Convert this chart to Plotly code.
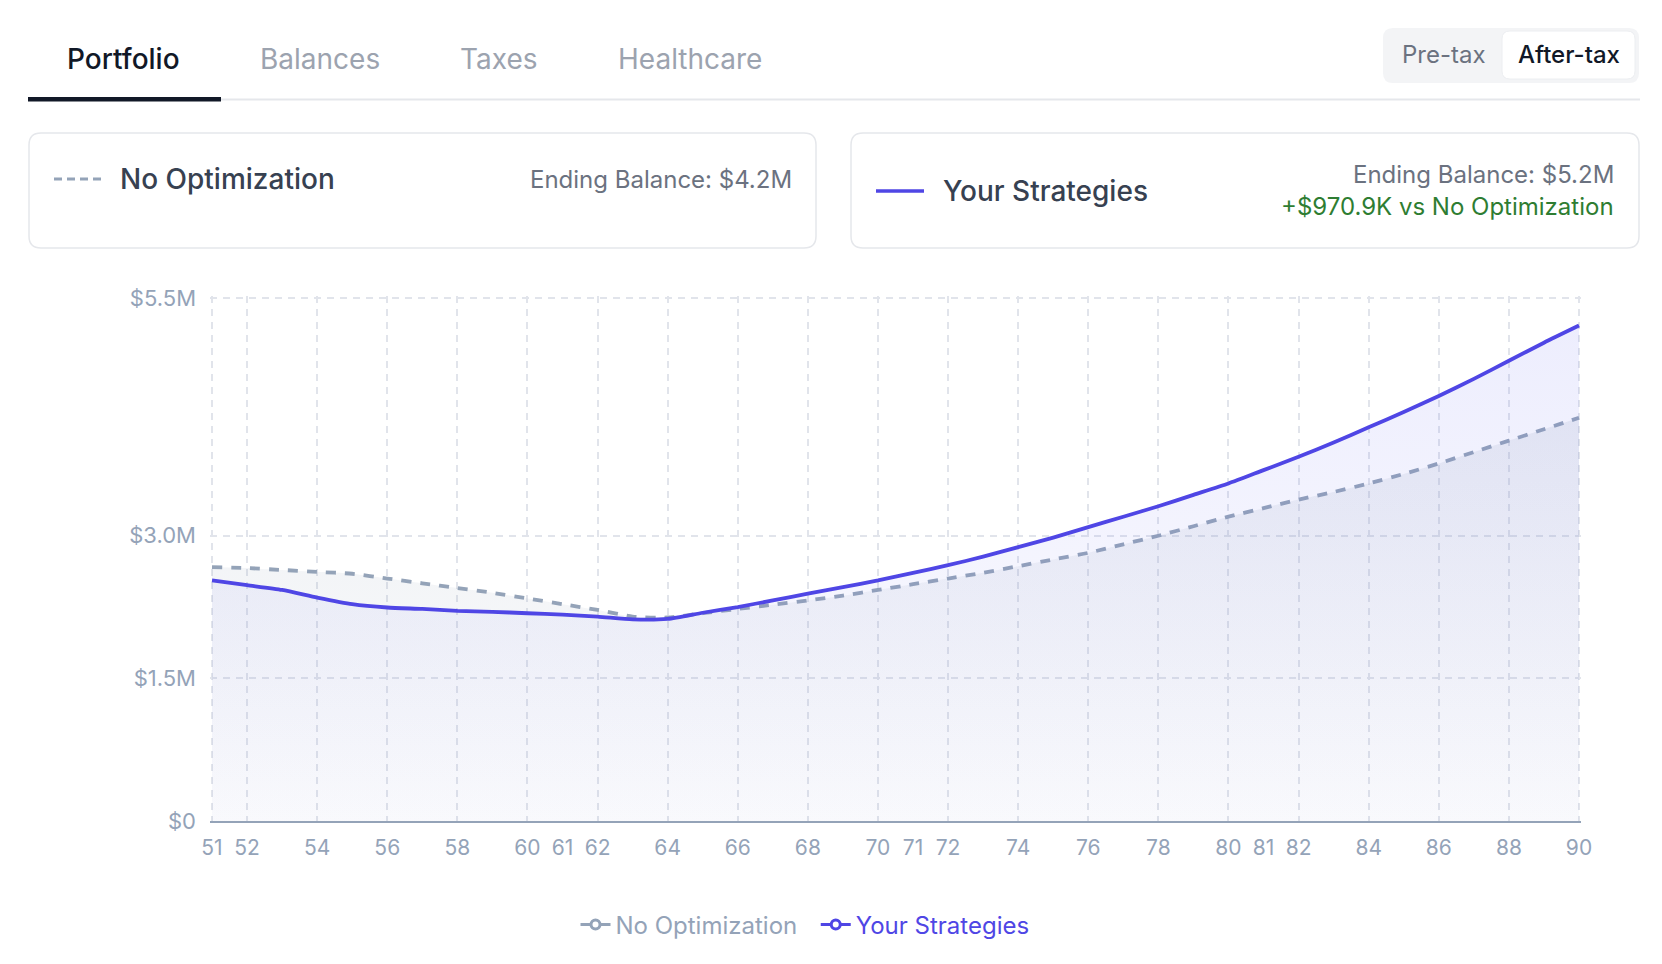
import plotly.graph_objects as go

# ---------------- data ----------------
ages = list(range(51, 91))
no_opt = [2.67, 2.66, 2.64, 2.62, 2.60, 2.55, 2.50, 2.45, 2.40, 2.34,
          2.28, 2.22, 2.15, 2.14, 2.185, 2.23, 2.275, 2.32, 2.37, 2.43,
          2.49, 2.55, 2.61, 2.68, 2.75, 2.82, 2.91, 3.00, 3.10, 3.20,
          3.29, 3.38, 3.46, 3.55, 3.65, 3.76, 3.88, 4.00, 4.12, 4.24]
yours = [2.53, 2.48, 2.43, 2.35, 2.28, 2.245, 2.23, 2.21, 2.20, 2.185,
         2.17, 2.15, 2.12, 2.125, 2.19, 2.25, 2.32, 2.39, 2.46, 2.53,
         2.61, 2.69, 2.78, 2.88, 2.98, 3.09, 3.20, 3.31, 3.43, 3.55,
         3.69, 3.83, 3.98, 4.14, 4.30, 4.47, 4.65, 4.84, 5.03, 5.21]
no_opt_vals = [v * 1e6 for v in no_opt]
yours_vals = [v * 1e6 for v in yours]

grid_ages = [51] + list(range(52, 91, 2))
extra_label_ages = [61, 71, 81]
y_ticks = [0, 1.5e6, 3.0e6, 5.5e6]
y_tick_text = ["$0", "$1.5M", "$3.0M", "$5.5M"]

tabs = ["Portfolio", "Balances", "Taxes", "Healthcare"]
toggle = ["Pre-tax", "After-tax"]
series_names = ["No Optimization", "Your Strategies"]
ending_text = ["Ending Balance: $4.2M", "Ending Balance: $5.2M"]
diff_text = "+$970.9K vs No Optimization"

# ---------------- geometry helpers ----------------
W, H = 1662, 964
# data-range pixel positions (age 51 .. 90, $0 .. $5.5M)
L, R, T, B = 212, 1579, 298, 821
PAD = 2  # extend plot area slightly so edge gridlines are drawn
PL, PR, PT, PB = L - PAD, R + PAD, T - PAD, B
x_per_px = (90 - 51) / (R - L)
y_per_px = 5.5e6 / (B - T)
x_range = [51 - PAD * x_per_px, 90 + PAD * x_per_px]
y_range = [0, 5.5e6 + PAD * y_per_px]

def px(x):
    return (x - PL) / (PR - PL)

def py(y):
    return (PB - y) / (PB - PT)

def rrect(x0, y0, x1, y1, r):
    X0, X1 = px(x0), px(x1)
    Y0, Y1 = py(y0), py(y1)
    rx = r / (PR - PL)
    ry = r / (PB - PT)
    return (f"M{X0+rx},{Y0} L{X1-rx},{Y0} Q{X1},{Y0} {X1},{Y0-ry} "
            f"L{X1},{Y1+ry} Q{X1},{Y1} {X1-rx},{Y1} L{X0+rx},{Y1} "
            f"Q{X0},{Y1} {X0},{Y1+ry} L{X0},{Y0-ry} Q{X0},{Y0} {X0+rx},{Y0} Z")

FONT = "Inter, 'Noto Sans', sans-serif"
INDIGO = "#4f46e5"
SLATE = "#94a3b8"

fig = go.Figure()

fig.add_trace(go.Scatter(
    x=ages, y=no_opt_vals, mode="lines", name=series_names[0], showlegend=False,
    line=dict(color=SLATE, width=3.8, dash="10px,9px", shape="spline", smoothing=0.6),
    fill="tozeroy",
    fillgradient=dict(type="vertical", start=0, stop=5.5e6,
                      colorscale=[[0, "rgba(148,163,184,0.03)"], [1, "rgba(148,163,184,0.20)"]]),
    hoverinfo="skip",
))
fig.add_trace(go.Scatter(
    x=ages, y=yours_vals, mode="lines", name=series_names[1], showlegend=False,
    line=dict(color=INDIGO, width=3.8, shape="spline", smoothing=0.6),
    fill="tozeroy",
    fillgradient=dict(type="vertical", start=0, stop=5.5e6,
                      colorscale=[[0, "rgba(99,102,241,0.02)"], [1, "rgba(99,102,241,0.12)"]]),
    hoverinfo="skip",
))

# legend-only entries
fig.add_trace(go.Scatter(
    x=[None], y=[None], mode="lines+markers", xaxis="x2",
    name=f"<span style='color:{SLATE}'>{series_names[0]}</span>&nbsp;&nbsp;",
    line=dict(color=SLATE, width=3),
    marker=dict(symbol="circle", size=9, color="white", line=dict(color=SLATE, width=3)),
))
fig.add_trace(go.Scatter(
    x=[None], y=[None], mode="lines+markers", xaxis="x2",
    name=f"<span style='color:{INDIGO}'>{series_names[1]}</span>",
    line=dict(color=INDIGO, width=3),
    marker=dict(symbol="circle", size=9, color="white", line=dict(color=INDIGO, width=3)),
))

shapes = []
annotations = []

# tabs
tab_x = [124, 320, 499, 690]
for i, (t, xc) in enumerate(zip(tabs, tab_x)):
    annotations.append(dict(
        x=px(xc), y=py(59), xref="paper", yref="paper", text=t, showarrow=False,
        xanchor="center", yanchor="middle",
        font=dict(family=FONT, size=28, color="#111827" if i == 0 else "#9ca3af",
                  weight=500 if i == 0 else 400)))
shapes.append(dict(type="line", xref="paper", yref="paper",
                   x0=px(28), x1=px(1640), y0=py(99.5), y1=py(99.5),
                   line=dict(color="#e5e7eb", width=2)))
shapes.append(dict(type="rect", xref="paper", yref="paper",
                   x0=px(28), x1=px(221), y0=py(97), y1=py(101.5),
                   line=dict(width=0), fillcolor="#111827"))

# toggle
shapes.append(dict(type="path", xref="paper", yref="paper", path=rrect(1383, 28, 1639, 83, 10),
                   fillcolor="#f3f4f6", line=dict(width=0)))
shapes.append(dict(type="path", xref="paper", yref="paper", path=rrect(1502, 31, 1635, 79, 8),
                   fillcolor="white", line=dict(color="#eceef1", width=1)))
annotations.append(dict(x=px(1444), y=py(55), xref="paper", yref="paper", text=toggle[0],
                        showarrow=False, xanchor="center", yanchor="middle",
                        font=dict(family=FONT, size=24, color="#6b7280")))
annotations.append(dict(x=px(1569), y=py(55), xref="paper", yref="paper", text=toggle[1],
                        showarrow=False, xanchor="center", yanchor="middle",
                        font=dict(family=FONT, size=24, color="#111827", weight=500)))

# cards
for (x0, x1) in [(29, 816), (851, 1639)]:
    shapes.append(dict(type="path", xref="paper", yref="paper", path=rrect(x0, 133, x1, 248, 12),
                       fillcolor="white", line=dict(color="#e5e7eb", width=1.5)))

shapes.append(dict(type="line", xref="paper", yref="paper",
                   x0=px(54), x1=px(103), y0=py(179), y1=py(179),
                   line=dict(color=SLATE, width=3, dash="8px,5px")))
annotations.append(dict(x=px(118), y=py(179), xref="paper", yref="paper", text=series_names[0],
                        showarrow=False, xanchor="left", yanchor="middle",
                        font=dict(family=FONT, size=28, color="#374151", weight=500)))
annotations.append(dict(x=px(794), y=py(179), xref="paper", yref="paper", text=ending_text[0],
                        showarrow=False, xanchor="right", yanchor="middle",
                        font=dict(family=FONT, size=24, color="#6b7280")))

shapes.append(dict(type="line", xref="paper", yref="paper",
                   x0=px(876), x1=px(924), y0=py(191), y1=py(191),
                   line=dict(color=INDIGO, width=3.5)))
annotations.append(dict(x=px(941), y=py(191), xref="paper", yref="paper", text=series_names[1],
                        showarrow=False, xanchor="left", yanchor="middle",
                        font=dict(family=FONT, size=28, color="#374151", weight=500)))
annotations.append(dict(x=px(1616), y=py(174), xref="paper", yref="paper", text=ending_text[1],
                        showarrow=False, xanchor="right", yanchor="middle",
                        font=dict(family=FONT, size=24, color="#6b7280")))
annotations.append(dict(x=px(1616), y=py(207), xref="paper", yref="paper", text=diff_text,
                        showarrow=False, xanchor="right", yanchor="middle",
                        font=dict(family=FONT, size=24, color="#2e7d32")))

xtickfont = dict(family=FONT, size=21, color=SLATE)
ytickfont = dict(family=FONT, size=22, color=SLATE)

fig.update_layout(
    width=W, height=H, autosize=False,
    margin=dict(l=PL, r=W - PR, t=PT, b=H - PB, pad=0),
    paper_bgcolor="white", plot_bgcolor="white",
    font=dict(family=FONT, color=SLATE),
    shapes=shapes, annotations=annotations,
    hovermode=False,
    xaxis=dict(range=x_range, tickmode="array", tickvals=grid_ages,
               ticktext=[str(a) for a in grid_ages], showgrid=True,
               gridcolor="#e1e4eb", gridwidth=1.5, griddash="7px,6px",
               showline=True, linecolor=SLATE, linewidth=2, zeroline=False,
               ticks="", ticklabelstandoff=7, tickfont=xtickfont, fixedrange=True),
    xaxis2=dict(range=x_range, overlaying="x", anchor="y", side="bottom",
                tickmode="array", tickvals=extra_label_ages,
                ticktext=[str(a) for a in extra_label_ages], showgrid=False,
                showline=True, linecolor=SLATE, linewidth=2, zeroline=False,
                ticks="", ticklabelstandoff=7, tickfont=xtickfont, fixedrange=True),
    yaxis=dict(range=y_range, tickmode="array", tickvals=y_ticks, ticktext=y_tick_text,
               showgrid=True, gridcolor="#e1e4eb", gridwidth=1.5, griddash="7px,6px",
               zeroline=False, showline=False, ticks="", ticklabelstandoff=13,
               tickfont=ytickfont, fixedrange=True),
    showlegend=True,
    legend=dict(orientation="h", x=px(805), y=py(925), xanchor="center", yanchor="middle",
                font=dict(family=FONT, size=24, color=SLATE), itemwidth=30,
                bgcolor="rgba(0,0,0,0)"),
)

fig.write_html("out.html")
